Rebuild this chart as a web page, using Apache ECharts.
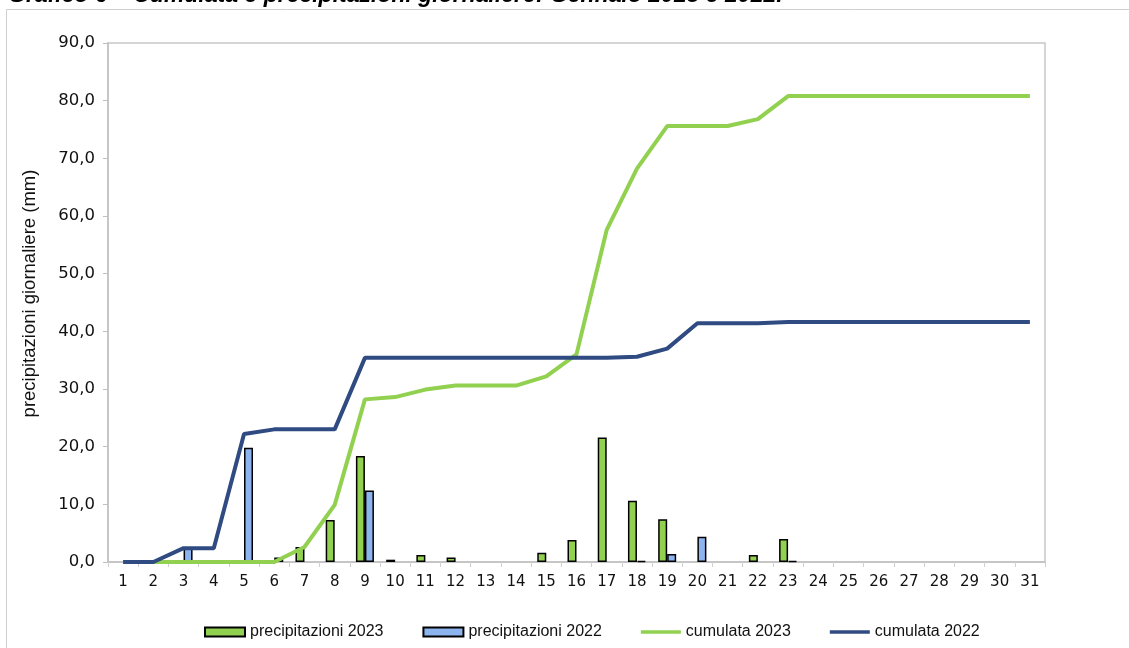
<!DOCTYPE html>
<html>
<head>
<meta charset="utf-8">
<script src="https://cdn.jsdelivr.net/npm/echarts@6/dist/echarts.min.js"></script>
<style>
html,body{margin:0;padding:0;background:#fff;}
#chart{width:1129px;height:648px;}
</style>
</head>
<body>
<div id="chart"></div>
<script>
const days = Array.from({length: 31}, (_, i) => String(i + 1));
const precip2023 = [0,0,0,0,0,0,2.6,7.3,18.4,0.4,1.2,0.8,0,0,1.6,3.8,21.6,10.6,7.4,0,0,1.2,4.0,0,0,0,0,0,0,0,0];
const precip2022 = [0,0,2.4,0,19.8,0.8,0,0,12.4,0,0,0,0,0,0,0,0,0.2,1.4,4.4,0,0,0.2,0,0,0,0,0,0,0,0];
const cum2023 = [0,0,0,0,0,0,2.6,9.9,28.2,28.6,29.9,30.6,30.6,30.6,32.2,36.0,57.6,68.2,75.6,75.6,75.6,76.8,80.8,80.8,80.8,80.8,80.8,80.8,80.8,80.8,80.8];
const cum2022 = [0,0,2.4,2.4,22.2,23.0,23.0,23.0,35.4,35.4,35.4,35.4,35.4,35.4,35.4,35.4,35.4,35.6,37.0,41.4,41.4,41.4,41.6,41.6,41.6,41.6,41.6,41.6,41.6,41.6,41.6];

const hideZero = arr => arr.map(v => (v === 0 ? null : v));
const fmt = v => Number(v).toFixed(1).replace('.', ',');
const lineIcon = 'path://M0,0 L44,0 L44,4 L0,4 Z';

const chart = echarts.init(document.getElementById('chart'), null, {renderer: 'canvas'});
chart.setOption({
  animation: false,
  backgroundColor: '#fff',
  title: {
    text: 'Grafico 6 – Cumulata e precipitazioni giornaliere: Gennaio 2023 e 2022.',
    left: 3,
    top: -21,
    textStyle: {fontFamily: 'Liberation Sans, Arial', fontStyle: 'italic', fontWeight: 'bold', fontSize: 23, color: '#000'}
  },
  graphic: [{
    type: 'rect',
    shape: {x: 6.5, y: 9.5, width: 1140, height: 660},
    style: {fill: 'none', stroke: '#cfcfcf', lineWidth: 1},
    silent: true, z: -10
  }],
  legend: {
    left: 199,
    top: 619,
    itemWidth: 40,
    itemHeight: 9,
    itemGap: 39,
    symbolKeepAspect: true,
    textStyle: {fontFamily: 'Liberation Sans, Arial', fontSize: 16, color: '#111'},
    data: [
      {name: 'precipitazioni 2023', icon: 'rect'},
      {name: 'precipitazioni 2022', icon: 'rect'},
      {name: 'cumulata 2023', icon: lineIcon, itemStyle: {color: '#92D050', borderWidth: 0}},
      {name: 'cumulata 2022', icon: lineIcon, itemStyle: {color: '#2F4B82', borderWidth: 0}}
    ]
  },
  grid: {
    left: 108, right: 84, top: 43, bottom: 86,
    show: true, borderColor: '#c8c8c8', borderWidth: 1.5
  },
  xAxis: {
    type: 'category',
    data: days,
    boundaryGap: true,
    axisLine: {lineStyle: {color: '#c0c0c0', width: 1.5}},
    axisTick: {show: true, length: 5, lineStyle: {color: '#d0d0d0'}},
    axisLabel: {fontFamily: 'DejaVu Sans', fontSize: 15, color: '#111', margin: 13, interval: 0}
  },
  yAxis: {
    type: 'value',
    min: 0, max: 90, interval: 10,
    name: 'precipitazioni giornaliere (mm)',
    nameLocation: 'middle',
    nameGap: 69,
    nameRotate: 90,
    nameTextStyle: {fontFamily: 'Liberation Sans, Arial', fontSize: 18.5, color: '#111', padding: [0, 0, 0, 18]},
    axisLine: {show: true, lineStyle: {color: '#c0c0c0', width: 1.5}},
    axisTick: {show: true, length: 5, lineStyle: {color: '#c0c0c0'}},
    splitLine: {show: false},
    axisLabel: {fontFamily: 'DejaVu Sans', fontSize: 16.5, color: '#111', margin: 13, formatter: fmt}
  },
  series: [
    {
      name: 'precipitazioni 2023', type: 'bar', data: hideZero(precip2023),
      barWidth: 9, barGap: '0%',
      itemStyle: {color: '#92D050', borderColor: '#000', borderWidth: 1.5}
    },
    {
      name: 'precipitazioni 2022', type: 'bar', data: hideZero(precip2022),
      barWidth: 9, barGap: '0%',
      itemStyle: {color: '#8CB4EE', borderColor: '#000', borderWidth: 1.5}
    },
    {
      name: 'cumulata 2023', type: 'line', data: cum2023,
      symbol: 'none', lineStyle: {color: '#92D050', width: 4}, itemStyle: {color: '#92D050'}, z: 3
    },
    {
      name: 'cumulata 2022', type: 'line', data: cum2022,
      symbol: 'none', lineStyle: {color: '#2F4B82', width: 4}, itemStyle: {color: '#2F4B82'}, z: 4
    }
  ]
});
</script>
</body>
</html>
